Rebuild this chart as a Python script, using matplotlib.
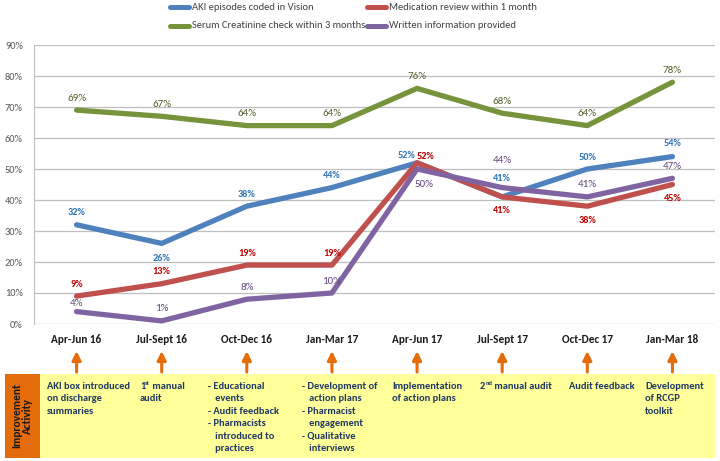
import matplotlib
matplotlib.use("Agg")
import matplotlib.pyplot as plt
from matplotlib.patches import Rectangle
from matplotlib.lines import Line2D
from matplotlib import font_manager as fm

names = {f.name for f in fm.fontManager.ttflist}
FAM = 'Lato'
for cand in ['Carlito', 'Fira Sans Condensed', 'Roboto Condensed', 'Encode Sans Semi Condensed',
             'Asap Condensed', 'Archivo Narrow', 'PT Sans Narrow', 'Liberation Sans Narrow']:
    if cand in names:
        FAM = cand
        break
plt.rcParams['font.family'] = [FAM, 'DejaVu Sans']

categories = ["Apr-Jun 16", "Jul-Sept 16", "Oct-Dec 16", "Jan-Mar 17",
              "Apr-Jun 17", "Jul-Sept 17", "Oct-Dec 17", "Jan-Mar 18"]
aki = [32, 26, 38, 44, 52, 41, 50, 54]
med = [9, 13, 19, 19, 52, 41, 38, 45]
creat = [69, 67, 64, 64, 76, 68, 64, 78]
written = [4, 1, 8, 10, 50, 44, 41, 47]
series_names = ["AKI episodes coded in Vision", "Medication review within 1 month",
                "Serum Creatinine check within 3 months", "Written information provided"]
# each activity: list of lines; each line list of (text, superscript?)
activities = [
    [[("AKI box introduced", False)], [("on discharge", False)], [("summaries", False)]],
    [[("1", False), ("st", True), (" manual", False)], [("audit", False)]],
    [[("- Educational", False)], [("   events", False)], [("- Audit feedback", False)],
     [("- Pharmacists", False)], [("   introduced to", False)], [("   practices", False)]],
    [[("- Development of", False)], [("   action plans", False)], [("- Pharmacist", False)],
     [("   engagement", False)], [("- Qualitative", False)], [("   interviews", False)]],
    [[("Implementation", False)], [("of action plans", False)]],
    [[("2", False), ("nd", True), (" manual audit", False)]],
    [[("Audit feedback", False)]],
    [[("Development", False)], [("of RCGP", False)], [("toolkit", False)]],
]
activity_x = [47, 140, 208, 302, 392, 480, 569, 645]

W, H = 720, 461
fig = plt.figure(figsize=(7.2, 4.61), dpi=100)
renderer = fig.canvas.get_renderer()


def fx(px):
    return px / W


def fy(py):
    return 1 - py / H


def fit(s, target, weight='normal'):
    t = fig.text(0, 0, s, fontsize=10, fontweight=weight)
    w = t.get_window_extent(renderer).width
    t.remove()
    return 10 * target / w


fs_box = fit("AKI box introduced", 83, 'bold')
fs_xt = fit("Apr-Jun 16", 50, 'bold')
fs_leg = fit("AKI episodes coded in Vision", 121)
fs_yt = fit("90%", 18)
fs_lab_b = fit("32%", 18, 'bold')
fs_lab = fit("69%", 19)
fs_side = fit("Improvement", 65, 'bold')

ax = fig.add_axes([fx(34), fy(324), (715 - 34) / W, (324 - 45) / H])

x = list(range(len(categories)))
colors = ["#4F81BD", "#C0504D", "#77933C", "#8064A2"]
label_colors = ["#2E75B6", "#C00000", "#4F6228", "#604A7B"]
label_weights = ["bold", "bold", "normal", "normal"]
data = [aki, med, creat, written]
lines = []
for d, c, n in zip(data, colors, series_names):
    ln, = ax.plot(x, d, color=c, lw=3.8, solid_capstyle='round', solid_joinstyle='round', label=n)
    lines.append(ln)

# label offsets (dx px, dy px)
offs = {
    0: [(0, 12), (0, -15), (0, 12), (0, 12), (-10, 7), (0, 18), (0, 12), (0, 13)],
    1: [(0, 12), (0, 12), (0, 12), (0, 12), (9, 6), (0, -14), (0, -14), (0, -14)],
    2: [(0, 12), (0, 12), (0, 12), (0, 12), (0, 12), (0, 12), (0, 12), (0, 12)],
    3: [(0, 8), (0, 12), (0, 12), (0, 12), (7, -15), (0, 27), (0, 12), (0, 12)],
}
for si, d in enumerate(data):
    for i, v in enumerate(d):
        dx, dy = offs[si][i]
        ax.annotate(f"{v}%", (i, v), xytext=(dx * 0.72, dy * 0.72), textcoords='offset points',
                    ha='center', va='center',
                    fontsize=fs_lab_b if label_weights[si] == 'bold' else fs_lab,
                    color=label_colors[si], fontweight=label_weights[si])

ax.set_xlim(-0.5, 7.5)
ax.set_ylim(0, 90)
ax.set_yticks(range(0, 91, 10))
ax.set_yticklabels([f"{t}%" for t in range(0, 91, 10)], color="#595959", fontsize=fs_yt)
ax.set_xticks(x)
ax.set_xticklabels(categories, fontweight='bold', fontsize=fs_xt, color="#1a1a1a")
ax.tick_params(axis='both', length=0)
ax.tick_params(axis='x', pad=7)
ax.tick_params(axis='y', pad=8)
ax.grid(axis='y', color="#BFBFBF", lw=0.9)
ax.set_axisbelow(True)
for s in ['top', 'right', 'bottom']:
    ax.spines[s].set_visible(False)
ax.spines['left'].set_color("#BFBFBF")

# legend (two rows x two columns)
leg_pos = [(168, 7), (365, 7), (168, 26), (365, 26)]
for ln, name, (lx, ly) in zip(lines, series_names, leg_pos):
    fig.add_artist(Line2D([fx(lx + 2), fx(lx + 21)], [fy(ly), fy(ly)], transform=fig.transFigure,
                          color=ln.get_color(), lw=3.6, solid_capstyle='round'))
    fig.text(fx(lx + 24), fy(ly), name, ha='left', va='center', fontsize=fs_leg,
             color="#404040")

# bottom boxes
fig.patches.append(Rectangle((fx(5), fy(458)), 35 / W, 84 / H, transform=fig.transFigure,
                             facecolor="#E46C0A", edgecolor='none'))
fig.patches.append(Rectangle((fx(40), fy(458)), 675 / W, 84 / H, transform=fig.transFigure,
                             facecolor="#FFFF99", edgecolor='none'))
fig.text(fx(22), fy(416), "Improvement\nActivity", rotation=90, ha='center', va='center',
         fontsize=fs_side, fontweight='bold', color="#1a1a1a", linespacing=1.05)

line_h = 12.5
for xp, act in zip(activity_x, activities):
    for li, line in enumerate(act):
        cx = xp
        cy = 386 + li * line_h
        for txt, sup in line:
            if sup:
                t = fig.text(fx(cx), fy(cy - 3), txt, ha='left', va='center',
                             fontsize=fs_box * 0.62, fontweight='bold', color="#1F3864")
            else:
                t = fig.text(fx(cx), fy(cy), txt, ha='left', va='center', fontsize=fs_box,
                             fontweight='bold', color="#1F3864")
            bb = t.get_window_extent(renderer)
            cx += bb.width

# arrows
for i in x:
    ax.annotate("", xy=(i, fy(351)), xytext=(i, fy(372)),
                xycoords=('data', 'figure fraction'), textcoords=('data', 'figure fraction'),
                arrowprops=dict(arrowstyle='-|>', color="#E46C0A", lw=2.2,
                                mutation_scale=13, shrinkA=0, shrinkB=0),
                annotation_clip=False)

fig.savefig("out.png", dpi=100)
